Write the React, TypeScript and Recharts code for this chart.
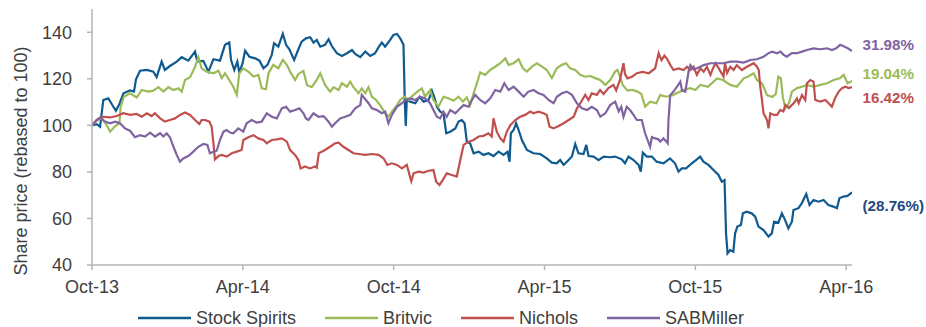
import React from 'react';
import { LineChart, Line, XAxis, YAxis, Legend } from 'recharts';

// x = months since Oct-13
const xTickMonths = [0, 6, 12, 18, 24, 30];
const xTickLabels = ['Oct-13', 'Apr-14', 'Oct-14', 'Apr-15', 'Oct-15', 'Apr-16'];
const yTicks = [40, 60, 80, 100, 120, 140];

const stockSpirits: [number, number][] = [
  [0,100],[0.19,100.5],[0.32,99.4],[0.45,110.9],[0.65,111.6],[0.85,108],[0.95,106.3],[1.09,109.2],[1.25,113.8],[1.51,115],[1.67,114.5],[1.75,119.8],[1.91,123.5],[2.18,123.8],[2.44,123.1],[2.57,120.7],[2.77,127.4],[2.9,123.8],[3.1,125.5],[3.37,127.4],[3.57,129.3],[3.83,127.8],[4.1,131.7],[4.19,127.4],[4.43,127.7],[4.63,123.1],[4.83,128.4],[5.09,127.8],[5.29,134.6],[5.46,135.6],[5.53,128.1],[5.66,123.8],[5.78,127.4],[5.86,122.7],[5.99,126.7],[6.09,132.1],[6.26,129.5],[6.49,128.8],[6.66,127.8],[6.82,124.5],[6.98,126],[7.15,130.3],[7.24,135.3],[7.41,133.8],[7.59,139.3],[7.72,134.6],[7.85,132.7],[8.04,128.1],[8.21,132.7],[8.34,136],[8.51,137.4],[8.68,137.9],[8.81,135.6],[8.94,136.7],[9.08,133.8],[9.27,134.6],[9.41,137],[9.54,134.1],[9.74,131],[9.94,129.8],[10.14,131],[10.34,132.4],[10.47,130.7],[10.67,129.3],[10.87,131.7],[11.07,129.8],[11.26,131],[11.4,133.6],[11.53,135.6],[11.66,133.8],[11.86,136.7],[11.99,138.9],[12.13,139.3],[12.26,137.4],[12.39,134.6],[12.44,110.9],[12.48,99.7],[12.52,110.9],[12.66,110.2],[12.86,109.5],[13.03,112.3],[13.19,110.2],[13.39,110.9],[13.52,114.9],[13.61,112.3],[13.72,108],[13.85,105.9],[13.98,105.2],[14.09,96.6],[14.25,97.3],[14.45,98.7],[14.58,101.6],[14.71,102.3],[14.82,100.9],[14.91,93],[15.04,92.3],[15.18,88],[15.38,88.7],[15.57,87.3],[15.77,88],[15.97,86.8],[16.17,88.7],[16.37,87.3],[16.53,88.7],[16.61,84.4],[16.66,96.6],[16.77,98],[16.87,100.9],[16.97,98],[17.1,93.7],[17.3,89.4],[17.56,88],[17.83,87.7],[18.09,85.8],[18.29,84],[18.49,83.7],[18.62,85.1],[18.76,83],[18.89,84.4],[19.09,86.6],[19.22,92],[19.35,88],[19.55,87.7],[19.66,91.6],[19.75,86.8],[19.95,86.6],[20.15,85.1],[20.35,86.6],[20.61,86.3],[20.81,86.6],[21.07,85.4],[21.2,83.7],[21.34,86.6],[21.54,85.1],[21.74,83],[21.83,80.1],[21.91,88.3],[22.07,86.6],[22.27,86.6],[22.46,84.4],[22.73,83.7],[22.99,85.8],[23.19,83.7],[23.33,80.1],[23.46,81.5],[23.63,81.5],[23.86,83.7],[24.06,85.4],[24.19,86.6],[24.32,84.4],[24.52,83],[24.72,80.8],[24.92,78.7],[25.05,75.8],[25.16,76.5],[25.22,53.6],[25.28,45],[25.38,46.4],[25.51,45.7],[25.58,53.6],[25.67,56.5],[25.81,57.2],[25.89,62.2],[26.04,62.9],[26.24,62.2],[26.38,60.8],[26.51,56.5],[26.71,55],[26.91,52.2],[27.04,53.6],[27.13,58.6],[27.3,58.2],[27.44,62.2],[27.57,59.3],[27.7,55.7],[27.84,58.6],[27.9,63.6],[28.1,64.4],[28.23,66.5],[28.41,70.5],[28.54,65.8],[28.7,67.9],[28.9,67.2],[29.1,67.9],[29.29,65.8],[29.49,65.1],[29.63,64.4],[29.73,68.7],[29.89,69.4],[30.05,69.7],[30.23,71.24],
];

const britvic: [number, number][] = [
  [0,100],[0.19,102.3],[0.38,103],[0.56,100.6],[0.72,97.3],[0.92,99.7],[1.09,100.9],[1.14,108],[1.27,112.3],[1.51,113.8],[1.78,112],[1.98,115.2],[2.24,114.5],[2.44,114.9],[2.64,116.4],[2.84,114.5],[3.04,116.4],[3.24,115.2],[3.44,115.9],[3.57,114.5],[3.7,119.5],[3.9,120.7],[4.1,125.2],[4.23,129.3],[4.36,124.5],[4.56,123.1],[4.83,122.4],[5.03,123.5],[5.16,120.3],[5.29,122.4],[5.46,119.5],[5.62,116.6],[5.76,113.1],[5.86,122.4],[6.02,124.5],[6.22,123.1],[6.42,121],[6.62,121.7],[6.75,115.9],[6.92,115.5],[7.02,122.4],[7.21,126],[7.41,124.5],[7.59,128.1],[7.75,126],[7.88,123.1],[8.08,119.5],[8.21,122.1],[8.41,123.4],[8.55,117.4],[8.74,116.4],[8.94,119.5],[9.08,122.4],[9.27,117.4],[9.47,114.5],[9.61,116.4],[9.81,115.2],[9.94,118.1],[10.14,116.6],[10.27,118.8],[10.4,116.4],[10.6,113.8],[10.73,115.9],[10.87,113.8],[11.0,116.4],[11.13,112.3],[11.3,110.9],[11.46,108.7],[11.66,105.2],[11.79,103.8],[11.93,105.9],[12.13,108.7],[12.26,110.9],[12.42,112.3],[12.59,110.9],[12.79,113.1],[12.99,114.9],[13.12,115.9],[13.25,112.3],[13.45,115.2],[13.58,110.9],[13.78,108],[13.98,112.3],[14.18,111.6],[14.38,110.6],[14.58,112.3],[14.75,110.2],[14.91,112],[15.04,108.7],[15.18,113.8],[15.31,118.1],[15.44,122.7],[15.64,121.7],[15.84,123.8],[16.04,125.2],[16.24,126.7],[16.44,128.8],[16.57,126],[16.77,126.7],[16.97,128.4],[17.14,124.5],[17.3,123.1],[17.5,125.2],[17.7,126.7],[17.9,125.2],[18.09,123.8],[18.29,120.3],[18.49,124.5],[18.69,126],[18.86,126.7],[19.02,124.5],[19.22,123.8],[19.42,121.7],[19.62,120.9],[19.82,121.2],[20.02,120.3],[20.21,119.5],[20.42,117.4],[20.61,119.5],[20.81,123.1],[20.9,123.8],[21.0,121],[21.11,117.4],[21.3,114.9],[21.5,115.2],[21.7,114.5],[21.85,113.5],[22.0,108],[22.2,110.2],[22.45,109.5],[22.6,113],[22.85,112.3],[23.1,113],[23.52,115.2],[23.8,116],[24.0,115.2],[24.2,117.4],[24.5,116.6],[24.86,120.2],[25.1,119.5],[25.39,117.4],[25.65,116.6],[25.92,120.2],[26.1,121],[26.32,122.4],[26.45,119.5],[26.65,118.1],[26.85,113],[27.06,112.2],[27.2,113.5],[27.3,120.9],[27.4,120.2],[27.48,112],[27.58,107.3],[27.72,109.5],[27.84,114.5],[28.04,116],[28.24,116.6],[28.44,117.4],[28.7,116.6],[28.97,117.4],[29.24,118.1],[29.5,119.5],[29.75,120.2],[29.9,121.7],[30.05,118.1],[30.23,119.04],
];

const nichols: [number, number][] = [
  [0,100],[0.19,102.3],[0.45,103.7],[0.72,103.4],[0.98,104],[1.25,105.2],[1.51,104.5],[1.78,104.9],[1.98,103.7],[2.18,105.2],[2.37,104],[2.5,105.2],[2.71,103],[2.9,101.6],[3.1,102.3],[3.3,103],[3.5,104.5],[3.7,105.5],[3.9,104.5],[4.1,102.3],[4.27,100.6],[4.36,102.3],[4.5,102.3],[4.67,101.6],[4.76,99.4],[4.83,92.3],[4.89,85.4],[5.03,86.8],[5.16,87.3],[5.36,86.6],[5.56,88],[5.76,88.7],[5.95,89.4],[6.02,93.7],[6.22,94.9],[6.42,95.8],[6.62,94.4],[6.82,93.7],[6.95,92.3],[7.15,93.7],[7.35,94],[7.55,94.4],[7.75,93],[7.88,89.4],[8.08,87.3],[8.21,85.1],[8.3,81.5],[8.47,82.3],[8.67,81.5],[8.87,82.3],[8.94,81.8],[9.02,88],[9.27,89.4],[9.47,90.8],[9.67,92.3],[9.81,92.6],[10.0,90.8],[10.2,89.4],[10.4,88],[10.6,87.7],[10.87,87.3],[11.13,87.7],[11.4,87.3],[11.6,85.8],[11.75,83],[11.93,83.7],[12.13,83],[12.33,81.5],[12.52,83],[12.7,76],[12.79,79.4],[12.99,80.1],[13.19,79.7],[13.39,80.5],[13.58,80.8],[13.69,75.8],[13.82,74.4],[13.95,76.5],[14.11,79.4],[14.31,78.7],[14.51,78],[14.65,85.1],[14.78,91.6],[14.98,93],[15.18,93.7],[15.38,95.2],[15.57,95.5],[15.77,96.6],[15.9,95.2],[15.97,103],[16.1,97.3],[16.24,94.4],[16.37,93],[16.5,97.3],[16.64,100.1],[16.84,102.3],[17.03,103.7],[17.23,104.5],[17.43,105.9],[17.56,105.2],[17.76,105.9],[17.96,105.2],[18.09,104.5],[18.2,99.4],[18.36,98.7],[18.56,99.7],[18.76,100.9],[18.96,102.3],[19.16,103.7],[19.29,107.3],[19.42,109.5],[19.62,113.1],[19.75,110.9],[19.88,113.8],[20.08,113.1],[20.21,115.2],[20.35,113.5],[20.53,115.9],[20.74,117.4],[20.85,115],[21.0,119.5],[21.14,126.7],[21.2,122],[21.3,120.2],[21.5,121],[21.67,122.4],[21.9,123],[22.15,122.4],[22.4,124.5],[22.54,131],[22.65,128],[22.77,130],[22.88,128.5],[23.0,126],[23.13,123.8],[23.33,124.5],[23.53,123.8],[23.67,125.2],[23.8,123.8],[23.93,125.2],[24.06,121.7],[24.2,124.5],[24.33,123],[24.46,125.2],[24.6,121.7],[24.7,124.5],[24.8,126.7],[24.93,124.5],[25.12,121],[25.18,126.7],[25.26,122.5],[25.39,125.2],[25.52,123.8],[25.65,125.9],[25.85,123.8],[26.05,125.2],[26.32,126.7],[26.45,125.2],[26.52,123.8],[26.58,116.6],[26.65,110.9],[26.71,105.2],[26.85,102.3],[26.91,98.7],[26.98,105.2],[27.12,104.5],[27.25,104.5],[27.38,106.6],[27.5,106],[27.58,108.8],[27.72,107.5],[27.91,109.5],[28.04,111.6],[28.11,109.5],[28.24,113],[28.37,110.9],[28.44,118.1],[28.57,119.5],[28.7,118.8],[28.77,110.9],[28.97,110.2],[29.17,110.9],[29.3,109.5],[29.43,108],[29.57,112],[29.7,114.5],[29.83,116],[29.97,116.6],[30.1,116],[30.23,116.42],
];

const sabMiller: [number, number][] = [
  [0,100],[0.19,102.3],[0.32,103.4],[0.52,101.6],[0.72,100.9],[0.92,101.6],[1.11,100.9],[1.31,98.7],[1.51,97.7],[1.71,94.9],[1.91,95.8],[2.11,95.2],[2.31,96.9],[2.51,95.2],[2.71,96.6],[2.84,95.2],[2.97,96.6],[3.1,94.9],[3.24,90.8],[3.37,87.3],[3.5,84.4],[3.63,85.8],[3.83,86.8],[4.03,88.7],[4.23,90.8],[4.43,92],[4.59,91.6],[4.69,88],[4.83,88.7],[4.96,89.1],[5.09,93.7],[5.23,97.3],[5.36,98],[5.49,96.9],[5.62,96.6],[5.82,98.7],[6.02,97.3],[6.15,100.9],[6.35,102.3],[6.55,101.2],[6.75,101.6],[6.95,105.2],[7.15,103.7],[7.35,103],[7.55,107.3],[7.72,108],[7.88,105.9],[8.08,106.6],[8.25,107.3],[8.41,105.2],[8.51,103],[8.61,102.3],[8.81,105.2],[9.01,103.7],[9.21,104],[9.41,101.6],[9.54,99.4],[9.67,100.9],[9.87,103],[10.07,103.7],[10.27,104.5],[10.47,107.3],[10.67,108.7],[10.73,113.1],[10.87,111.2],[11.0,109.5],[11.13,107.3],[11.33,106.6],[11.53,105.2],[11.66,105.9],[11.79,100.9],[11.93,104.5],[12.13,108],[12.33,109.5],[12.46,110.9],[12.66,111.6],[12.86,110.9],[13.05,112.3],[13.25,111.6],[13.45,109.5],[13.58,106.6],[13.72,103.7],[13.85,103],[13.98,105.9],[14.11,103.7],[14.25,106.6],[14.45,105.2],[14.58,106.6],[14.78,108.7],[14.98,108],[15.11,110.9],[15.24,113.1],[15.44,110.9],[15.64,109.5],[15.84,111.6],[16.04,115.2],[16.24,114.5],[16.4,118.1],[16.57,115.2],[16.77,116.6],[16.97,114.5],[17.17,112.3],[17.36,114.5],[17.56,115.2],[17.76,113.8],[17.96,113.1],[18.16,110.9],[18.36,109.5],[18.49,112.3],[18.69,113.8],[18.89,114.5],[19.09,113.1],[19.29,109.5],[19.49,107.3],[19.69,106.6],[19.88,108],[20.08,106.6],[20.22,103.7],[20.42,105.2],[20.61,108.7],[20.81,110.2],[20.95,106],[21.05,108],[21.14,103.7],[21.27,108],[21.4,106.6],[21.54,104.5],[21.67,102.3],[21.87,102.3],[22.0,96.6],[22.2,90.8],[22.27,95],[22.4,94.4],[22.53,94],[22.6,93],[22.73,94.4],[22.85,93],[22.9,92.3],[22.93,102.3],[23.0,113],[23.13,114.5],[23.27,116.6],[23.4,118.8],[23.47,114.9],[23.6,114.5],[23.74,123.8],[23.8,125.9],[23.93,124],[24.06,124.5],[24.2,125.2],[24.33,125.9],[24.6,126.7],[24.86,126.7],[25.12,126.7],[25.39,127.4],[25.65,127.4],[25.92,127],[26.19,128.1],[26.45,128.4],[26.71,129.5],[26.91,131],[27.05,131.7],[27.25,131],[27.38,131.7],[27.51,130.3],[27.64,129.5],[27.84,131],[28.04,131],[28.24,131.7],[28.44,132.4],[28.7,133.1],[28.97,132.7],[29.24,133.1],[29.43,132.4],[29.6,133.1],[29.76,134.6],[29.9,134],[30.06,133.1],[30.23,131.98],
];

const seriesNames = ['Stock Spirits', 'Britvic', 'Nichols', 'SABMiller'];
const endLabels = ['(28.76%)', '19.04%', '16.42%', '31.98%'];

const FONT = '"Liberation Sans", Arial, sans-serif';
const toRows = (pts: [number, number][]) => pts.map(([m, v]) => ({ m, v }));

const series = [
  { name: seriesNames[0], data: toRows(stockSpirits), color: '#0F5B8F', labelColor: '#1F497D', label: endLabels[0], dy: 13 },
  { name: seriesNames[1], data: toRows(britvic), color: '#9BBB59', labelColor: '#9BBB59', label: endLabels[1], dy: -8 },
  { name: seriesNames[2], data: toRows(nichols), color: '#C0504D', labelColor: '#C0504D', label: endLabels[2], dy: 10 },
  { name: seriesNames[3], data: toRows(sabMiller), color: '#8064A2', labelColor: '#8064A2', label: endLabels[3], dy: -6 },
];

const makeEndLabel = (s: any) => (props: any) => {
  const { x, y, index } = props;
  if (index !== s.data.length - 1) return null;
  return (
    <text x={x + 10.5} y={y + s.dy} fill={s.labelColor} fontSize={15.2} fontWeight="bold"
      fontFamily={FONT} dominantBaseline="central">{s.label}</text>
  );
};

const renderLegend = () => (
  <div style={{ display: 'flex', alignItems: 'center', marginLeft: 138, gap: 29, fontFamily: FONT, fontSize: 18, color: '#404040', height: 24 }}>
    {series.map((s) => (
      <div key={s.name} style={{ display: 'flex', alignItems: 'center' }}>
        <svg width={53} height={6} style={{ display: 'block' }}>
          <line x1={0} x2={53} y1={3} y2={3} stroke={s.color} strokeWidth={2.5} />
        </svg>
        <span style={{ marginLeft: 5, lineHeight: '24px' }}>{s.name}</span>
      </div>
    ))}
  </div>
);

const yLabel = () => (
  <text x={21} y={161} transform="rotate(-90 21 161)" textAnchor="middle" dominantBaseline="central"
    fontSize={18} fill="#404040" fontFamily={FONT}>Share price (rebased to 100)</text>
);

export default function App() {
  return (
    <div style={{ position: 'absolute', left: 0, top: 0, width: 926, height: 327, background: '#fff' }}>
      <LineChart width={926} height={327} margin={{ top: 9, right: 74, left: 32, bottom: 0 }} style={{ fontFamily: FONT }}>
        <XAxis
          type="number"
          dataKey="m"
          domain={[0, 30.23]}
          allowDataOverflow
          ticks={xTickMonths}
          tickFormatter={(v: number) => xTickLabels[xTickMonths.indexOf(v)] ?? ''}
          height={62}
          tickSize={5}
          tickMargin={10}
          stroke="#B5B5B5"
          strokeWidth={1.5}
          tick={{ fontSize: 18, fill: '#404040', fontFamily: FONT }}
        />
        <YAxis
          type="number"
          domain={[40, 150]}
          allowDataOverflow
          ticks={yTicks}
          width={60}
          tickSize={5}
          tickMargin={15}
          stroke="#B5B5B5"
          strokeWidth={1.5}
          tick={{ fontSize: 18, fill: '#404040', fontFamily: FONT }}
          label={yLabel}
        />
        <Legend verticalAlign="middle" align="center" layout="horizontal"
          wrapperStyle={{ top: 306, left: 0, width: 926, height: 24 }} content={renderLegend} />
        {series.map((s) => (
          <Line key={s.name} data={s.data} dataKey="v" name={s.name} type="linear" stroke={s.color}
            strokeWidth={2.2} dot={false} activeDot={false} isAnimationActive={false}
            label={makeEndLabel(s)} />
        ))}
      </LineChart>
    </div>
  );
}
